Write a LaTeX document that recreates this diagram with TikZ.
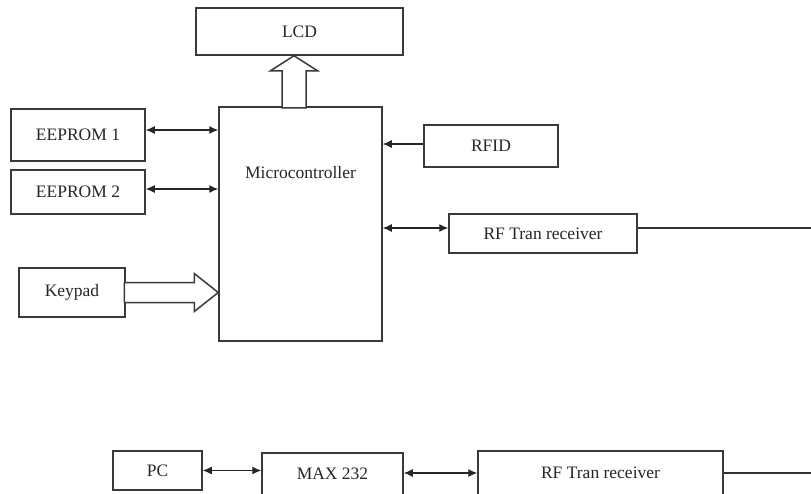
\documentclass[tikz,border=0pt]{standalone}
\usepackage{fontspec}
\setmainfont{Liberation Serif}
\usetikzlibrary{positioning, arrows.meta, calc}
\definecolor{boxline}{HTML}{3A3A3A}

\begin{document}
\begin{tikzpicture}[
    x=1pt, y=-1pt,
    block/.style={rectangle, draw=boxline, line width=1.5pt, fill=white, inner sep=0pt,
                  font=\fontsize{17.5}{19}\selectfont, text=black!85},
    link/.style={{Latex[length=9pt,width=8pt]}-{Latex[length=9pt,width=8pt]}, line width=1.2pt, black!85},
    feed/.style={-{Latex[length=9pt,width=8pt]}, line width=1.2pt, black!85},
    wire/.style={line width=1.2pt, black!80},
    bus/.style={draw=boxline, line width=1.5pt, fill=white, line join=miter}
  ]
    \clip (0,0) rectangle (811,493);
    \fill[white] (0,0) rectangle (811,493);

    % main unit
    \node[block, minimum width=163pt, minimum height=234pt,
          label={[anchor=center, yshift=-66pt, font=\fontsize{17.5}{19}\selectfont, text=black!85]north:Microcontroller}]
          (mcu) at (300.5,224) {};
    \node[block, minimum width=207pt, minimum height=47pt] (lcd) at (299.5,31.5) {LCD};
    \node[block, minimum width=134pt, minimum height=52pt] (eep1) at (78,135) {EEPROM 1};
    \node[block, minimum width=134pt, minimum height=44pt] (eep2) at (78,192) {EEPROM 2};
    \node[block, minimum width=106pt, minimum height=49pt] (keypad) at (72,292.5) {Keypad};
    \node[block, minimum width=134pt, minimum height=42pt] (rfid) at (491,146) {RFID};
    \node[block, minimum width=188pt, minimum height=39pt] (rf1) at (543,233.5) {RF Tran receiver};

    % base station
    \node[block, minimum width=89pt, minimum height=39pt] (pc) at (157.5,470.5) {PC};
    \node[block, minimum width=141pt, minimum height=42pt] (max) at (332.5,474) {MAX 232};
    \node[block, minimum width=245pt, minimum height=44pt] (rf2) at (600.5,473) {RF Tran receiver};

    \coordinate (edge1) at (811,228);
    \coordinate (edge2) at (811,473);
    \coordinate (lcdtip) at ($(lcd.south)+(-5.5,0)$);
    \coordinate (kptip) at (mcu.west |- keypad.east);

    % hollow bus arrows
    \draw[bus] (lcdtip) -- ++(23.5,15) -- ++(-11.5,0) -- ++(0,37) -- ++(-24,0)
               -- ++(0,-37) -- ++(-11.5,0) -- cycle;
    \draw[bus] (kptip) -- ++(-24,-19) -- ++(0,9) -- ++(-70,0) -- ++(0,20)
               -- ++(70,0) -- ++(0,9) -- cycle;

    \draw[link] ([yshift=5pt]eep1.east) -- ([yshift=5pt]eep1.east -| mcu.west);
    \draw[link] ([yshift=3pt]eep2.east) -- ([yshift=3pt]eep2.east -| mcu.west);
    \draw[feed] ([yshift=2pt]rfid.west) -- ([yshift=2pt]rfid.west -| mcu.east);
    \draw[link] ([yshift=5.5pt]rf1.west -| mcu.east) -- ([yshift=5.5pt]rf1.west);
    \draw[wire] (rf1.east |- edge1) -- (edge1);

    \draw[link] (pc.east) -- (pc.east -| max.west);
    \draw[link] ([yshift=1pt]max.east) -- ([yshift=1pt]max.east -| rf2.west);
    \draw[wire] (rf2.east |- edge2) -- (edge2);
  \end{tikzpicture}
\end{document}
